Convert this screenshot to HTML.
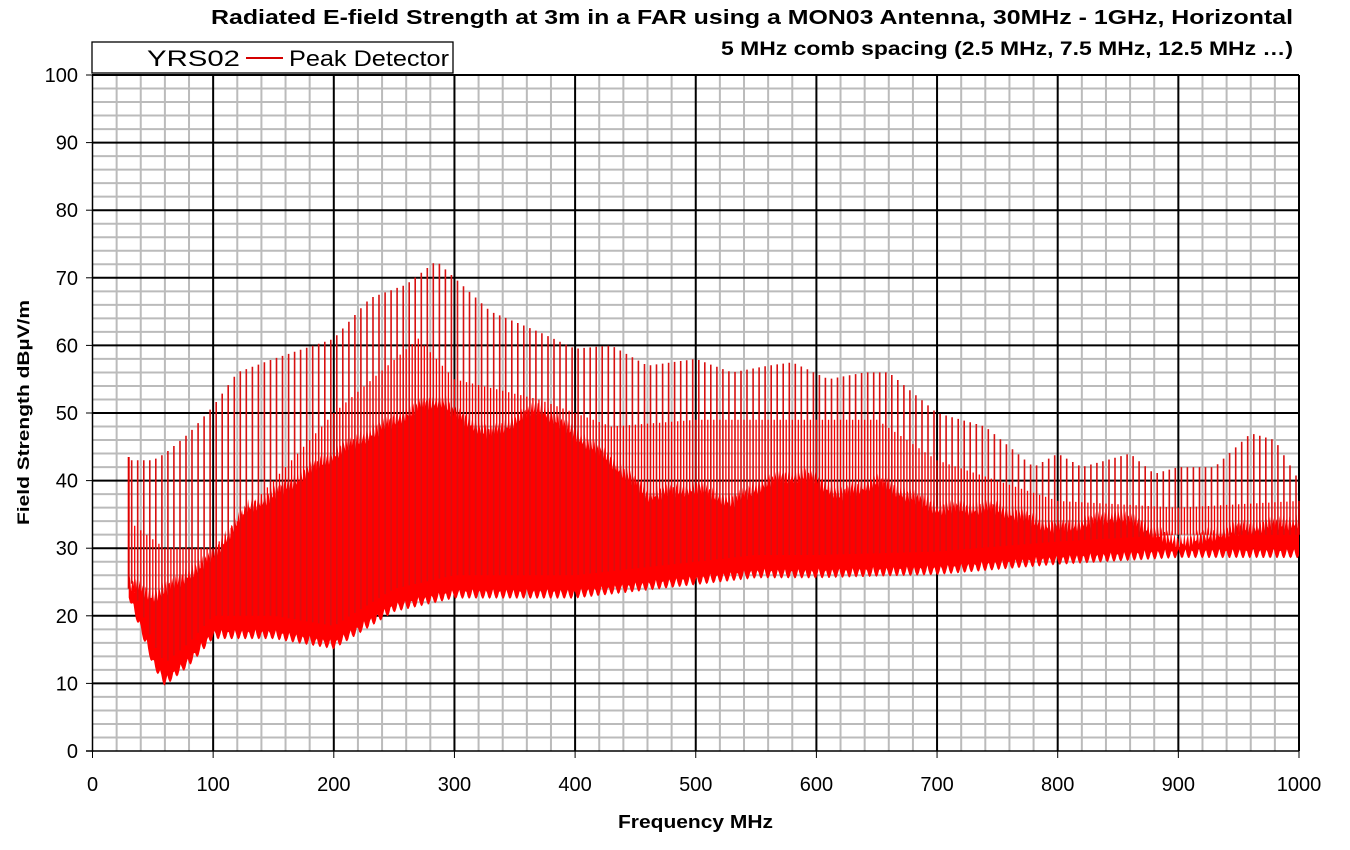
<!DOCTYPE html>
<html><head><meta charset="utf-8"><style>
body{margin:0;background:#fff;font-family:"Liberation Sans",Arial,sans-serif}
svg{display:block}
</style></head><body>
<svg id="s" width="1350" height="850" xmlns="http://www.w3.org/2000/svg" font-family="Liberation Sans, Arial, sans-serif">
<rect width="1350" height="850" fill="#fff"/>
<g id="grid"></g>
<g id="data"></g>
<g id="axes"></g>
<text x="211" y="24" font-size="20" font-weight="bold" textLength="1082" lengthAdjust="spacingAndGlyphs">Radiated E-field Strength at 3m in a FAR using a MON03 Antenna, 30MHz - 1GHz, Horizontal</text>
<text x="721" y="55" font-size="19" font-weight="bold" textLength="572" lengthAdjust="spacingAndGlyphs">5 MHz comb spacing (2.5 MHz, 7.5 MHz, 12.5 MHz …)</text>
<rect x="92" y="42" width="361" height="31" fill="#fff" stroke="#000" stroke-width="1.3"/>
<text x="147" y="66" font-size="22" textLength="93" lengthAdjust="spacingAndGlyphs">YRS02</text>
<line x1="246" y1="58" x2="283" y2="58" stroke="#d40000" stroke-width="2"/>
<text x="289" y="66" font-size="22" textLength="160" lengthAdjust="spacingAndGlyphs">Peak Detector</text>
<text x="618" y="828" font-size="18" font-weight="bold" textLength="155" lengthAdjust="spacingAndGlyphs">Frequency MHz</text>
<text transform="translate(29,525) rotate(-90)" font-size="17" font-weight="bold" textLength="225" lengthAdjust="spacingAndGlyphs">Field Strength dBµV/m</text>
</svg>
<script>
const X=f=>92.5+f*1.2065, Y=v=>751-v*6.76;
const ns="http://www.w3.org/2000/svg";
function el(p,t,a){const e=document.createElementNS(ns,t);for(const k in a)e.setAttribute(k,a[k]);p.appendChild(e);return e;}
const G=document.getElementById('grid'),A=document.getElementById('axes'),D=document.getElementById('data');
for(let f=20;f<1000;f+=20)if(f%100)el(G,'line',{x1:X(f),x2:X(f),y1:75,y2:751,stroke:'#bbb','stroke-width':2});
for(let v=2;v<100;v+=2)if(v%10)el(G,'line',{x1:92,x2:1299,y1:Y(v),y2:Y(v),stroke:'#bbb','stroke-width':2});
for(let f=100;f<=1000;f+=100)el(G,'line',{x1:X(f),x2:X(f),y1:75,y2:751,stroke:'#000','stroke-width':2});
for(let v=10;v<=100;v+=10)el(G,'line',{x1:92,x2:1299,y1:Y(v),y2:Y(v),stroke:'#000','stroke-width':2});
el(A,'line',{x1:92.5,x2:92.5,y1:75,y2:752,stroke:'#000','stroke-width':1.5});
el(A,'line',{x1:86,x2:1299,y1:751,y2:751,stroke:'#000','stroke-width':1.5});
for(let v=0;v<=100;v+=10){el(A,'line',{x1:86,x2:92,y1:Y(v),y2:Y(v),stroke:'#000'});const t=el(A,'text',{x:78,y:Y(v)+7,'text-anchor':'end','font-size':20});t.textContent=v;}
for(let f=0;f<=1000;f+=100){el(A,'line',{x1:X(f),x2:X(f),y1:751,y2:758,stroke:'#000'});const t=el(A,'text',{x:X(f),y:791,'text-anchor':'middle','font-size':20});t.textContent=f;}
function interp(pts,f){for(let i=1;i<pts.length;i++)if(f<=pts[i][0]){const [a,b]=pts[i-1],[c,d]=pts[i];return b+(d-b)*(f-a)/(c-a);}return pts[pts.length-1][1];}
const envTop=[[30,43],[50,43],[60,44],[80,47],[100,51],[120,56],[150,58],[200,61],[230,67],[260,69],[285,72.5],[300,70],[330,65],[370,62],[400,59.5],[430,60],[460,57],[500,58],[530,56],[560,57],[580,57.5],[610,55],[640,56],[660,56],[700,50],[740,48],[760,45],[780,42],[800,44],[820,42],[860,44],[880,41],[900,42],[930,42],[960,47],[980,46],[1000,40]];
const envMid=[[30,34],[60,30],[100,30],[150,40],[200,50],[270,61],[300,55],[370,52],[430,48],[500,49],[580,49],[650,49],[700,43],[800,37],[900,36],[1000,37]];
const envB=[[30,25],[50,23],[70,25],[100,29],[128,36],[150,38],[200,44],[250,49],[270,51],[290,52],[300,50],[330,47],[370,51],[400,47],[430,43],[460,38],[500,39],[530,37],[560,40],[590,41],[620,38],[650,40],[700,36],[750,36],[800,33],[850,35],[900,31],[950,33],[1000,34]];
const envBot=[[30,24],[40,19],[50,14],[60,11],[80,14],[100,18],[150,18],[200,16.5],[250,22],[300,24],[350,24],[400,24],[500,26],[550,27],[600,27],[700,27.5],[800,29],[900,30],[1000,30]];
let p=[];for(let f=30;f<=1000;f+=1){p.push(X(f).toFixed(1)+','+Y(interp(envB,f)+Math.sin(f*2.3)*1.2).toFixed(1));}
for(let f=1000;f>=30;f-=1){p.push(X(f).toFixed(1)+','+Y(interp(envBot,f)-Math.abs(Math.sin(f*3.7))*1.5).toFixed(1));}
el(D,'polygon',{points:p.join(' '),fill:'#ff0000'});
let d='';
for(let f=32.5;f<=1000;f+=5){const x=X(f).toFixed(1);d+='M'+x+','+Y(interp(envBot,f)+2).toFixed(1)+'V'+Y(interp(envTop,f)).toFixed(1);}
el(D,'path',{d:d,stroke:'#d81010','stroke-width':1.6,fill:'none'});
d='';
for(let f=30;f<=1000;f+=5){const x=X(f).toFixed(1);d+='M'+x+','+Y(interp(envBot,f)+2).toFixed(1)+'V'+Y(interp(envMid,f)).toFixed(1);}
el(D,'path',{d:d,stroke:'#ff0000','stroke-width':1.3,fill:'none'});
el(D,'line',{x1:X(30),x2:X(30),y1:Y(24),y2:Y(43.5),stroke:'#e00000','stroke-width':2});
</script>
</body></html>
